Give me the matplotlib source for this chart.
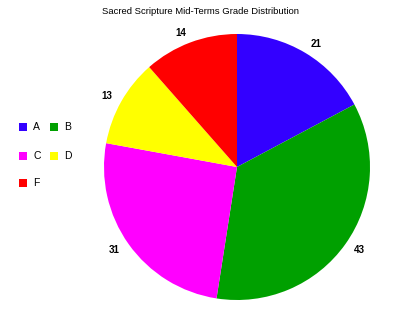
import matplotlib
matplotlib.use("Agg")
import matplotlib.pyplot as plt
from matplotlib.patches import Rectangle

grades = ["A", "B", "C", "D", "F"]
counts = [21, 43, 31, 13, 14]
colors = ["#3300ff", "#00a000", "#ff00ff", "#ffff00", "#ff0000"]

W, H = 400, 309
fig = plt.figure(figsize=(4, 3.09), dpi=100)
plt.rcParams['font.family'] = ['Liberation Sans', 'DejaVu Sans']

#pie axes placed in pixel coords: centre (237,167), radius 133
cx, cy, r = 237, 167, 133
ax = fig.add_axes([(cx - r) / W, (H - cy - r) / H, 2 * r / W, 2 * r / H])
wedges, texts = ax.pie(counts, colors=colors, startangle=90, counterclock=False,
                       labels=[str(c) for c in counts], labeldistance=1.08,
                       textprops=dict(fontsize=7, fontweight="bold"))
ax.set_aspect("equal")
ax.set_xlim(-1, 1)
ax.set_ylim(-1, 1)

fig.text(0.5, 1 - 12 / H, "Sacred Scripture Mid-Terms Grade Distribution",
         ha="center", va="center", fontsize=6.8)

#legend drawn by hand, two per row
legPos = [(19, 127), (50, 127), (19, 156), (50, 156), (19, 183)]
for (x, y), g, col in zip(legPos, grades, colors):
    fig.patches.append(Rectangle((x / W, 1 - (y + 4) / H), 8 / W, 8 / H,
                                 transform=fig.transFigure, facecolor=col,
                                 edgecolor="none"))
    fig.text((x + 14) / W, 1 - y / H, g, ha="left", va="center", fontsize=7.5)

fig.savefig("out.png", dpi=100)
